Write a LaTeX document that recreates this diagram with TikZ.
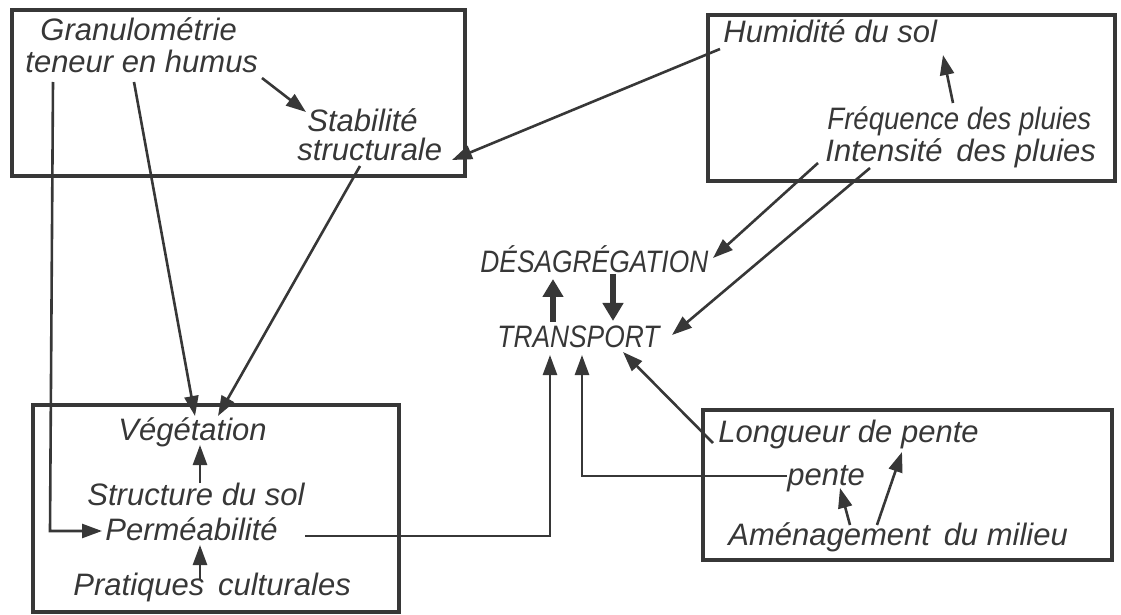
\documentclass[tikz,border=0pt]{standalone}
\usepackage{fontspec}
\setmainfont{Liberation Sans}
\usetikzlibrary{arrows.meta,fit}
\definecolor{ink}{RGB}{55,55,55}
\tikzset{
 lbl/.style={anchor=base west, inner sep=0pt, text=ink, font=\fontsize{15.5}{18}\selectfont\itshape},
 frame/.style={draw=ink, line width=2.2pt, inner sep=0pt},
 arr/.style={draw=ink, line width=1.3pt, -{Triangle[length=10pt,width=7pt]}},
 bigarr/.style={draw=ink, line width=3.4pt, -{Triangle[length=9pt,width=10pt]}},
}
\newcommand{\capsq}[1]{\scalebox{0.85}[1]{#1}}
\newcommand{\narrowq}[1]{\scalebox{0.89}[1]{#1}}
\begin{document}
\begin{tikzpicture}[x=0.5pt,y=-0.5pt]
\useasboundingbox (0,0) rectangle (1121,615);
% frames
\node[frame, fit={(12,10) (465,176)}] (b1) {};
\node[frame, fit={(708,15) (1115,181)}] (b2) {};
\node[frame, fit={(33,405) (399,612)}] (b3) {};
\node[frame, fit={(703,410) (1112,560)}] (b4) {};
% labels
\node[lbl] (gran) at (40,41) {Granulométrie};
\node[lbl] (hum) at (25,73) {teneur en humus};
\node[lbl] (stab) at (307,132) {Stabilité};
\node[lbl] (struc) at (297,161) {structurale};
\node[lbl] (humid) at (723,43) {Humidité du sol};
\node[lbl] (freq) at (827,130) {\narrowq{Fréquence des pluies}};
\node[lbl] (inten) at (825,162) {Intensité\, des pluies};
\node[lbl] (des) at (480,272) {\capsq{DÉSAGRÉGATION}};
\node[lbl] (trans) at (497,348) {\capsq{TRANSPORT}};
\node[lbl] (veg) at (118,440) {Végétation};
\node[lbl] (sol) at (87,505) {Structure du sol};
\node[lbl] (perm) at (105,540) {Perméabilité};
\node[lbl] (prat) at (73,595) {Pratiques\, culturales};
\node[lbl] (long) at (718,443) {Longueur de pente};
\node[lbl] (pente) at (787,485) {pente};
\node[lbl] (amen) at (728,545) {Aménagement\, du milieu};
% attachment points
\coordinate (humE) at (262,78);
\coordinate (stabW) at (306,112);
\coordinate (tenA) at (53,82);
\coordinate (tenB) at (50,531);
\coordinate (permW) at (102,531);
\coordinate (enA) at (134,82);
\coordinate (vegA) at (195,416);
\coordinate (strucS) at (360,166);
\coordinate (vegB) at (218,416);
\coordinate (humidW) at (720,49);
\coordinate (strucE) at (452,160);
\coordinate (freqN) at (953,103);
\coordinate (humidS) at (943,55);
\coordinate (intA) at (818,163);
\coordinate (desE) at (713,258);
\coordinate (intB) at (870,168);
\coordinate (transE) at (672,335);
\coordinate (transUp) at (553,322);
\coordinate (desDn) at (553,279);
\coordinate (desUp) at (613,274);
\coordinate (transDn) at (613,321);
\coordinate (permE) at (305,536);
\coordinate (permC) at (550,536);
\coordinate (transA) at (550,355);
\coordinate (penteW) at (787,476);
\coordinate (penteC) at (582,476);
\coordinate (transB) at (582,355);
\coordinate (longW) at (713,443);
\coordinate (transC) at (623,352);
\coordinate (amenA) at (850,525);
\coordinate (penteS) at (840,488);
\coordinate (amenB) at (877,525);
\coordinate (longS) at (902,452);
\coordinate (solN) at (200,483);
\coordinate (vegS) at (200,445);
\coordinate (pratN) at (200,580);
\coordinate (permS) at (200,545);
% connectors
\draw[arr] (humE) -- (stabW);
\draw[arr] (tenA) -- (tenB) -- (permW);
\draw[arr] (enA) -- (vegA);
\draw[arr] (strucS) -- (vegB);
\draw[arr] (humidW) -- (strucE);
\draw[arr] (freqN) -- (humidS);
\draw[arr] (intA) -- (desE);
\draw[arr] (intB) -- (transE);
\draw[bigarr] (transUp) -- (desDn);
\draw[bigarr] (desUp) -- (transDn);
\draw[arr] (permE) -- (permC) -- (transA);
\draw[arr] (penteW) -- (penteC) -- (transB);
\draw[arr] (longW) -- (transC);
\draw[arr] (amenA) -- (penteS);
\draw[arr] (amenB) -- (longS);
\draw[arr] (solN) -- (vegS);
\draw[arr] (pratN) -- (permS);
\end{tikzpicture}
\end{document}
